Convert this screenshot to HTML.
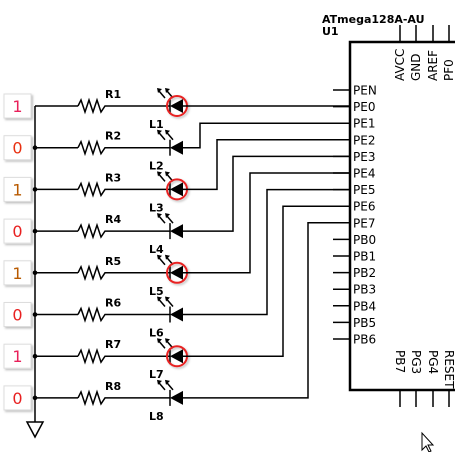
<!DOCTYPE html>
<html><head><meta charset="utf-8"><style>
body{margin:0;background:#fff;width:455px;height:452px;overflow:hidden}
text{font-family:"DejaVu Sans","Liberation Sans",sans-serif}
</style></head><body>
<svg id="s" width="455" height="452" viewBox="0 0 455 452" xmlns="http://www.w3.org/2000/svg">
<defs>
<filter id="sh" x="-20%" y="-20%" width="150%" height="150%"><feDropShadow dx="1.5" dy="1.5" stdDeviation="1" flood-color="#000" flood-opacity="0.25"/></filter>
</defs>
<g id="chip">
<rect x="350" y="42" width="120" height="348" fill="none" stroke="#000" stroke-width="2.5"/>
<text x="322" y="23" font-size="11" font-weight="bold" font-family="DejaVu Sans Mono,monospace">ATmega128A-AU</text>
<text x="322" y="35" font-size="11" font-weight="bold" font-family="DejaVu Sans Mono,monospace">U1</text>
</g>
</svg>
<script>
const inputs=[1,0,1,0,1,0,1,0];
const leftPins=["PEN","PE0","PE1","PE2","PE3","PE4","PE5","PE6","PE7","PB0","PB1","PB2","PB3","PB4","PB5","PB6"];
const topPins=["AVCC","GND","AREF","PF0"];
const botPins=["PB7","PG3","PG4","RESET"];
const S=document.getElementById('s'),NS="http://www.w3.org/2000/svg";
function mk(t,a,p){const e=document.createElementNS(NS,t);for(const k in a)e.setAttribute(k,a[k]);(p||S).appendChild(e);return e;}
function line(x1,y1,x2,y2,w){return mk('line',{x1,y1,x2,y2,stroke:'#000','stroke-width':w||1.5});}
const pinY=i=>90+i*16.6;
leftPins.forEach((n,i)=>{const y=pinY(i);
 line(333,y,350,y);
 const t=mk('text',{x:353,y:y+4.5,'font-size':12});t.textContent=n;
 
 });
const tx=[400,416,433,449];
topPins.forEach((n,i)=>{line(tx[i],25,tx[i],42);
 const t=mk('text',{x:0,y:0,'font-size':12,transform:`translate(${tx[i]+4},${81}) rotate(-90)`});t.textContent=n;
 
 });
botPins.forEach((n,i)=>{line(tx[i],390,tx[i],407);
 const t=mk('text',{x:0,y:0,'font-size':12,transform:`translate(${tx[i]-4},${350}) rotate(90)`});t.textContent=n;
 
 });
const rowY=i=>106+i*41.7;
const turnX=[null,200,217,233,250,267,283,308];
line(35,rowY(0),35,422);
const g=mk('path',{d:'M27 422 L43 422 L35 437 Z',fill:'none',stroke:'#000','stroke-width':1.5});


const colors=['#e8205a','#e83010','#b85a00','#e82020','#b85a00','#e82020','#e8205a','#e82020'];
inputs.forEach((v,i)=>{const y=rowY(i);
 const b=mk('rect',{x:4,y:y-12,width:27,height:24,fill:'#fff',stroke:'#ddd',filter:'url(#sh)'});
 
 
 const t=mk('text',{x:17.5,y:y+6,'font-size':16,'text-anchor':'middle',fill:colors[i]});t.textContent=v;
 
 
 if(i>0){mk('circle',{cx:35,cy:y,r:2.3,fill:'#000'});}
 line(35,y,78,y);
 const r=mk('polyline',{points:`78,${y} 81,${y-6} 85,${y+6} 89,${y-6} 93,${y+6} 97,${y-6} 101,${y+6} 105,${y} 108,${y}`,fill:'none',stroke:'#000','stroke-width':1.5});
 
 
 const rl=mk('text',{x:105,y:y-8,'font-size':11,'font-weight':'bold'});rl.textContent='R'+(i+1);
 
 
 line(108,y,170,y);
 const led=mk('g',{});
 
 
 mk('path',{d:`M170 ${y} L183 ${y-7} L183 ${y+7} Z`,fill:'#000'},led);
 mk('line',{x1:170,y1:y-8,x2:170,y2:y+8,stroke:'#000','stroke-width':1.5},led);
 [[165,157],[173,165]].forEach(([a,c])=>{mk('line',{x1:a,y1:y-8,x2:c+2,y2:y-15,stroke:'#000','stroke-width':1.5},led);
   mk('path',{d:`M${c} ${y-18} L${c+5} ${y-17} L${c+1} ${y-13} Z`,fill:'#000'},led);});
 if(v===1){mk('circle',{cx:177,cy:y,r:10,fill:'none',stroke:'#e82020','stroke-width':2,filter:'url(#sh)'},led);}
 const ll=mk('text',{x:149,y:y+22,'font-size':11,'font-weight':'bold'});ll.textContent='L'+(i+1);
 
 
 const py=pinY(i+1);
 if(i===0){line(183,y,350,y);}
 else{const w=mk('polyline',{points:`183,${y} ${turnX[i]},${y} ${turnX[i]},${py} 350,${py}`,fill:'none',stroke:'#000','stroke-width':1.5});
  
  }
});
const c=mk('path',{d:'M422 433 L422 450 L426 446 L429 452 L431 451 L428 445 L433 445 Z',fill:'#fff',stroke:'#000','stroke-width':1});


</script>
</body></html>
